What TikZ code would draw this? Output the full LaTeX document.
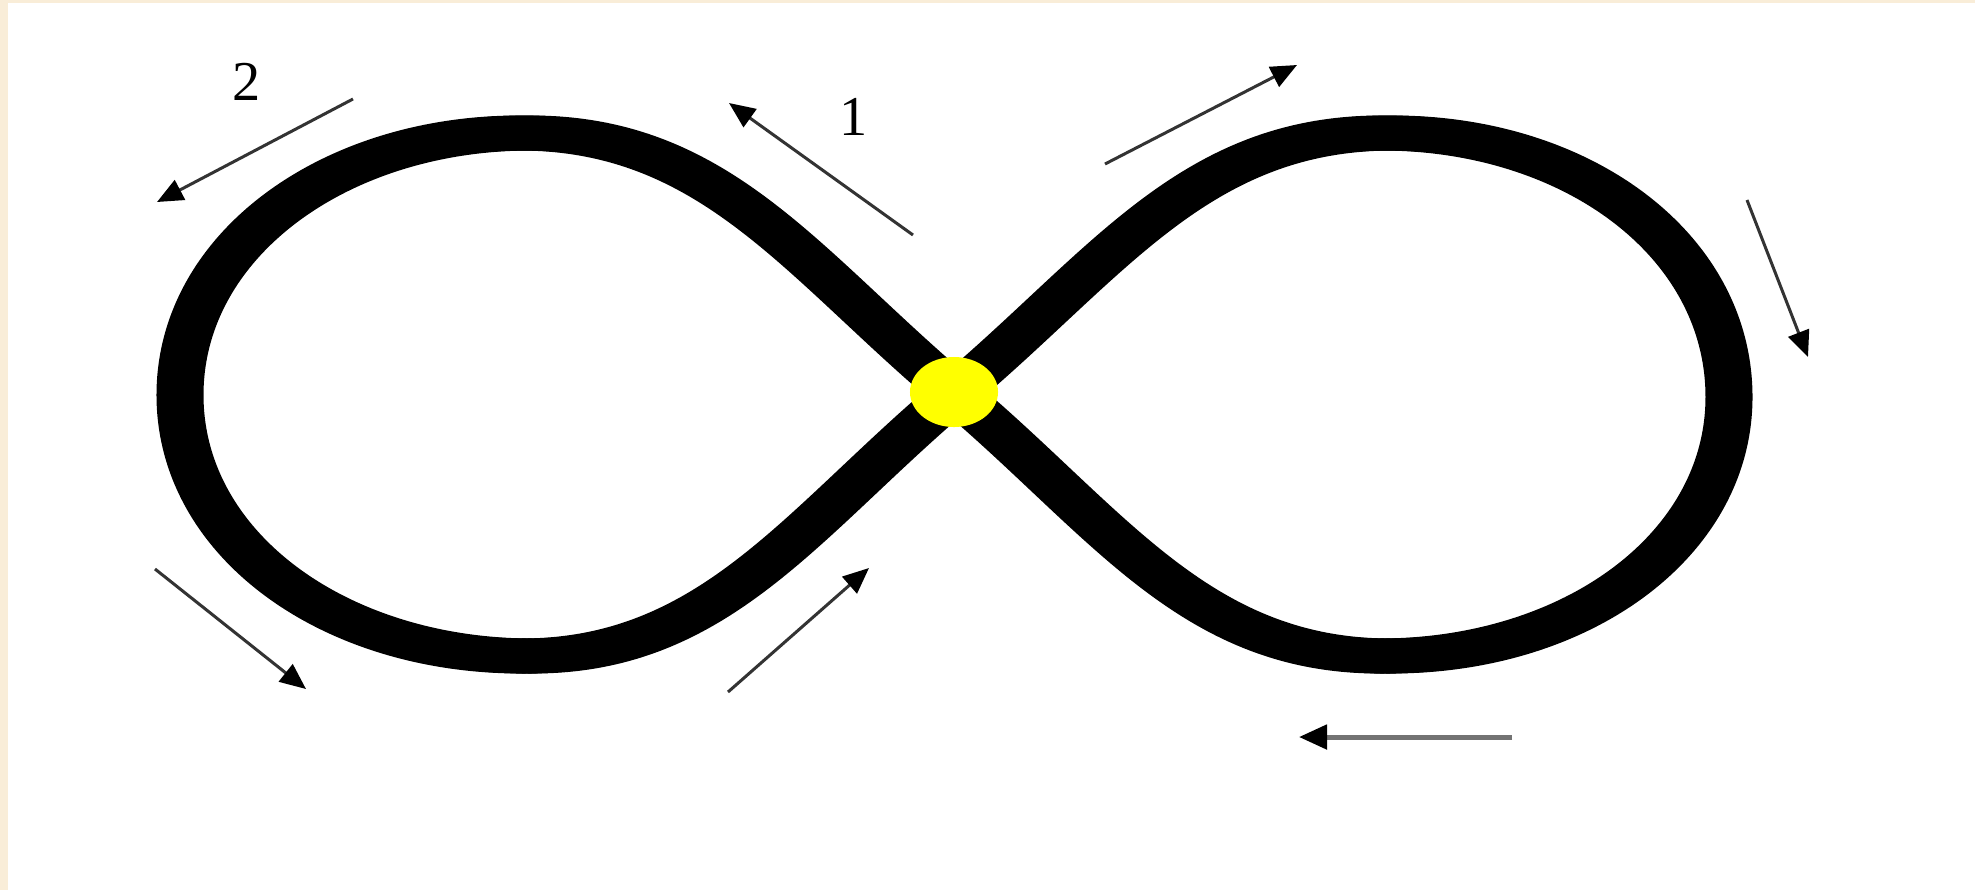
\documentclass[tikz,border=0pt]{standalone}
\usepackage{fontspec}
\setmainfont{Liberation Serif}
\usetikzlibrary{arrows.meta,shapes.geometric}
\definecolor{pagebeige}{RGB}{249,237,216}
\definecolor{dotyellow}{RGB}{255,255,0}
\begin{document}
\begin{tikzpicture}[x=0.01cm,y=-0.01cm,
  band/.style={line width=0.35cm, line join=round, draw=black},
  flow/.style={line width=0.03cm, draw=black!80, -{Triangle[length=0.26cm,width=0.22cm,color=black]}},
  flowthick/.style={line width=0.05cm, draw=black!55, -{Triangle[length=0.28cm,width=0.24cm,color=black]}},
  lbl/.style={font=\fontsize{16}{19}\selectfont, inner sep=0pt, text=black},
  dotstyle/.style={ellipse, fill=dotyellow, minimum width=0.88cm, minimum height=0.70cm, inner sep=0pt}]
\useasboundingbox (0,0) rectangle (1975,890);
\fill[white] (0,0) rectangle (1975,890);
\fill[pagebeige] (0,0) rectangle (1975,3);
\fill[pagebeige] (0,0) rectangle (8,890);
% figure eight band
\foreach \s in {-6,0,6}{
\draw[band, xshift=\s*0.01cm] (955,393)
  .. controls (802,264) and (715,133) .. (525,133)
  .. controls (335,133) and (180,245) .. (180,395)
  .. controls (180,545) and (335,656) .. (527,656)
  .. controls (715,656) and (802,522) .. (955,393)
  .. controls (1108,264) and (1195,133) .. (1387,133)
  .. controls (1577,133) and (1729,245) .. (1729,397)
  .. controls (1729,545) and (1577,656) .. (1385,656)
  .. controls (1195,656) and (1108,522) .. (955,393) -- cycle;
}
\node[dotstyle] (dot) at (954,392) {};
% labels
\node[lbl] (l2) at (247,82) {2};
\node[lbl] (l1) at (854,117) {1};
% arrows
\coordinate (a2s) at (353,99);   \coordinate (a2e) at (157,202);
\coordinate (a1s) at (913,235);  \coordinate (a1e) at (729,103);
\coordinate (trs) at (1105,164); \coordinate (tre) at (1297,65);
\coordinate (rs)  at (1747,200); \coordinate (re)  at (1808,357);
\coordinate (brs) at (1512,737); \coordinate (bre) at (1299,737);
\coordinate (bms) at (728,692);  \coordinate (bme) at (869,568);
\coordinate (bls) at (155,569);  \coordinate (ble) at (306,689);
\draw[flow] (a2s) -- (a2e);
\draw[flow] (a1s) -- (a1e);
\draw[flow] (trs) -- (tre);
\draw[flow] (rs) -- (re);
\draw[flowthick] (brs) -- (bre);
\draw[flow] (bms) -- (bme);
\draw[flow] (bls) -- (ble);
\end{tikzpicture}
\end{document}
